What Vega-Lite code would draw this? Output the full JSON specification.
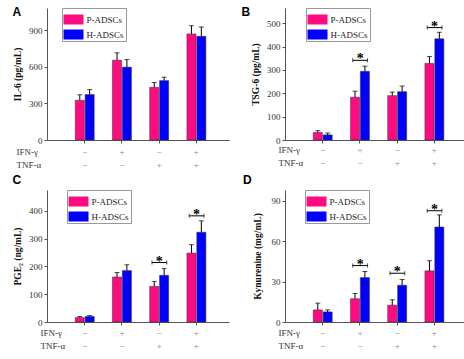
{
  "$schema": "https://vega.github.io/schema/vega-lite/v6.json",
  "padding": {"left": 12, "top": 5, "right": 4, "bottom": 2},
  "datasets": {
    "bars": [
      {"panel": "A", "cond": "−|−", "grp": "P-ADSCs", "mean": 325, "upper": 370},
      {"panel": "A", "cond": "−|−", "grp": "H-ADSCs", "mean": 372, "upper": 412},
      {"panel": "A", "cond": "+|−", "grp": "P-ADSCs", "mean": 653, "upper": 713},
      {"panel": "A", "cond": "+|−", "grp": "H-ADSCs", "mean": 596, "upper": 658},
      {"panel": "A", "cond": "−|+", "grp": "P-ADSCs", "mean": 431, "upper": 470},
      {"panel": "A", "cond": "−|+", "grp": "H-ADSCs", "mean": 486, "upper": 514},
      {"panel": "A", "cond": "+|+", "grp": "P-ADSCs", "mean": 868, "upper": 935},
      {"panel": "A", "cond": "+|+", "grp": "H-ADSCs", "mean": 848, "upper": 925},
      {"panel": "B", "cond": "−|−", "grp": "P-ADSCs", "mean": 32, "upper": 40},
      {"panel": "B", "cond": "−|−", "grp": "H-ADSCs", "mean": 22, "upper": 30},
      {"panel": "B", "cond": "+|−", "grp": "P-ADSCs", "mean": 183, "upper": 209},
      {"panel": "B", "cond": "+|−", "grp": "H-ADSCs", "mean": 294, "upper": 316},
      {"panel": "B", "cond": "−|+", "grp": "P-ADSCs", "mean": 190, "upper": 205},
      {"panel": "B", "cond": "−|+", "grp": "H-ADSCs", "mean": 207, "upper": 231},
      {"panel": "B", "cond": "+|+", "grp": "P-ADSCs", "mean": 328, "upper": 357},
      {"panel": "B", "cond": "+|+", "grp": "H-ADSCs", "mean": 433, "upper": 461},
      {"panel": "C", "cond": "−|−", "grp": "P-ADSCs", "mean": 16, "upper": 20},
      {"panel": "C", "cond": "−|−", "grp": "H-ADSCs", "mean": 20, "upper": 23},
      {"panel": "C", "cond": "+|−", "grp": "P-ADSCs", "mean": 162, "upper": 178},
      {"panel": "C", "cond": "+|−", "grp": "H-ADSCs", "mean": 185, "upper": 206},
      {"panel": "C", "cond": "−|+", "grp": "P-ADSCs", "mean": 128, "upper": 146},
      {"panel": "C", "cond": "−|+", "grp": "H-ADSCs", "mean": 168, "upper": 192},
      {"panel": "C", "cond": "+|+", "grp": "P-ADSCs", "mean": 248, "upper": 278},
      {"panel": "C", "cond": "+|+", "grp": "H-ADSCs", "mean": 323, "upper": 364},
      {"panel": "D", "cond": "−|−", "grp": "P-ADSCs", "mean": 9, "upper": 14},
      {"panel": "D", "cond": "−|−", "grp": "H-ADSCs", "mean": 7.5, "upper": 9},
      {"panel": "D", "cond": "+|−", "grp": "P-ADSCs", "mean": 17.3, "upper": 21.2},
      {"panel": "D", "cond": "+|−", "grp": "H-ADSCs", "mean": 33, "upper": 37.5},
      {"panel": "D", "cond": "−|+", "grp": "P-ADSCs", "mean": 12.5, "upper": 16.5},
      {"panel": "D", "cond": "−|+", "grp": "H-ADSCs", "mean": 27.3, "upper": 31.6},
      {"panel": "D", "cond": "+|+", "grp": "P-ADSCs", "mean": 38, "upper": 45.5},
      {"panel": "D", "cond": "+|+", "grp": "H-ADSCs", "mean": 70.5, "upper": 79.5}
    ],
    "sig": [
      {"panel": "B", "cond": "+|−", "y": 341},
      {"panel": "B", "cond": "+|+", "y": 481},
      {"panel": "C", "cond": "−|+", "y": 214},
      {"panel": "C", "cond": "+|+", "y": 382},
      {"panel": "D", "cond": "+|−", "y": 41.9},
      {"panel": "D", "cond": "−|+", "y": 36.2},
      {"panel": "D", "cond": "+|+", "y": 82.6}
    ]
  },
  "columns": 2,
  "spacing": {"row": 4, "column": 12},
  "resolve": {
    "scale": {"color": "independent", "x": "independent", "y": "independent", "xOffset": "independent"},
    "legend": {"color": "independent"}
  },
  "concat": [
    {
      "width": 182, "height": 132,
      "title": {"text": "A"},
      "layer": [
        {"data": {"name": "bars"}, "transform": [{"filter": "datum.panel === 'A'"}],
         "mark": {"type": "bar", "stroke": "#333", "strokeWidth": 0.5},
         "encoding": {
           "x": {"field": "cond", "type": "nominal", "scale": {"domain": ["−|−", "+|−", "−|+", "+|+"], "paddingInner": 0.49, "paddingOuter": 0.69, "align": 0.55},
                 "axis": {"labelExpr": "[substring(datum.label,0,1), substring(datum.label,2,3)]", "labelPadding": 4, "title": ["IFN-γ", "\u00a0\u00a0\u00a0\u00a0\u00a0\u00a0\u00a0\u00a0\u00a0\u00a0\u00a0TNF-α"], "titleX": -31, "titleY": 7}},
           "xOffset": {"field": "grp", "type": "nominal", "scale": {"domain": ["P-ADSCs", "H-ADSCs"], "paddingInner": 0.08, "paddingOuter": 0}},
           "y": {"field": "mean", "type": "quantitative", "scale": {"domain": [0, 1080], "nice": false}, "axis": {"values": [0, 300, 600, 900], "tickCount": 12, "labelOverlap": false, "title": "IL-6 (pg/mL)", "titlePadding": 6}},
           "color": {"field": "grp", "type": "nominal", "scale": {"domain": ["P-ADSCs", "H-ADSCs"], "range": ["#FF0A80", "#0000FF"]}, "legend": {"orient": "none", "legendX": 15, "legendY": 0, "title": null}}
         }},
        {"data": {"name": "bars"}, "transform": [{"filter": "datum.panel === 'A'"}],
         "mark": {"type": "rule", "color": "#000", "strokeWidth": 1},
         "encoding": {
           "x": {"field": "cond", "type": "nominal", "scale": {"domain": ["−|−", "+|−", "−|+", "+|+"]}},
           "xOffset": {"field": "grp", "type": "nominal", "scale": {"domain": ["P-ADSCs", "H-ADSCs"]}},
           "y": {"field": "mean", "type": "quantitative", "scale": {"domain": [0, 1080], "nice": false}, "axis": {"values": [0, 300, 600, 900], "tickCount": 12, "labelOverlap": false, "title": "IL-6 (pg/mL)", "titlePadding": 6}},
           "y2": {"field": "upper"}
         }},
        {"data": {"name": "bars"}, "transform": [{"filter": "datum.panel === 'A'"}],
         "mark": {"type": "tick", "color": "#000", "size": 5, "thickness": 1, "orient": "horizontal"},
         "encoding": {
           "x": {"field": "cond", "type": "nominal", "scale": {"domain": ["−|−", "+|−", "−|+", "+|+"]}},
           "xOffset": {"field": "grp", "type": "nominal", "scale": {"domain": ["P-ADSCs", "H-ADSCs"]}},
           "y": {"field": "upper", "type": "quantitative", "scale": {"domain": [0, 1080], "nice": false}, "axis": {"values": [0, 300, 600, 900], "tickCount": 12, "labelOverlap": false, "title": "IL-6 (pg/mL)", "titlePadding": 6}}
         }}
      ]
    },
    {
      "width": 182, "height": 132,
      "title": {"text": "B", "dx": -9},
      "layer": [
        {"data": {"name": "bars"}, "transform": [{"filter": "datum.panel === 'B'"}],
         "mark": {"type": "bar", "stroke": "#333", "strokeWidth": 0.5},
         "encoding": {
           "x": {"field": "cond", "type": "nominal", "scale": {"domain": ["−|−", "+|−", "−|+", "+|+"], "paddingInner": 0.49, "paddingOuter": 0.69, "align": 0.55},
                 "axis": {"labelExpr": "[substring(datum.label,0,1), substring(datum.label,2,3)]", "labelPadding": 2, "title": ["IFN-γ", "TNF-α"], "titleY": 5}},
           "xOffset": {"field": "grp", "type": "nominal", "scale": {"domain": ["P-ADSCs", "H-ADSCs"], "paddingInner": 0.08, "paddingOuter": 0}},
           "y": {"field": "mean", "type": "quantitative", "scale": {"domain": [0, 565], "nice": false}, "axis": {"values": [0, 100, 200, 300, 400, 500], "tickCount": 12, "labelOverlap": false, "title": "TSG-6 (pg/mL)", "titlePadding": 6}},
           "color": {"field": "grp", "type": "nominal", "scale": {"domain": ["P-ADSCs", "H-ADSCs"], "range": ["#FF0A80", "#0000FF"]}, "legend": {"orient": "none", "legendX": 21, "legendY": 0, "title": null}}
         }},
        {"data": {"name": "bars"}, "transform": [{"filter": "datum.panel === 'B'"}],
         "mark": {"type": "rule", "color": "#000", "strokeWidth": 1},
         "encoding": {
           "x": {"field": "cond", "type": "nominal", "scale": {"domain": ["−|−", "+|−", "−|+", "+|+"]}},
           "xOffset": {"field": "grp", "type": "nominal", "scale": {"domain": ["P-ADSCs", "H-ADSCs"]}},
           "y": {"field": "mean", "type": "quantitative", "scale": {"domain": [0, 565], "nice": false}, "axis": {"values": [0, 100, 200, 300, 400, 500], "tickCount": 12, "labelOverlap": false, "title": "TSG-6 (pg/mL)", "titlePadding": 6}},
           "y2": {"field": "upper"}
         }},
        {"data": {"name": "bars"}, "transform": [{"filter": "datum.panel === 'B'"}],
         "mark": {"type": "tick", "color": "#000", "size": 5, "thickness": 1, "orient": "horizontal"},
         "encoding": {
           "x": {"field": "cond", "type": "nominal", "scale": {"domain": ["−|−", "+|−", "−|+", "+|+"]}},
           "xOffset": {"field": "grp", "type": "nominal", "scale": {"domain": ["P-ADSCs", "H-ADSCs"]}},
           "y": {"field": "upper", "type": "quantitative", "scale": {"domain": [0, 565], "nice": false}, "axis": {"values": [0, 100, 200, 300, 400, 500], "tickCount": 12, "labelOverlap": false, "title": "TSG-6 (pg/mL)", "titlePadding": 6}}
         }},
        {"data": {"name": "sig"}, "transform": [{"filter": "datum.panel === 'B'"}],
         "mark": {"type": "rule", "color": "#000", "strokeWidth": 1},
         "encoding": {
           "x": {"field": "cond", "type": "nominal", "bandPosition": 0.12, "scale": {"domain": ["−|−", "+|−", "−|+", "+|+"]}},
           "x2": {"field": "cond", "bandPosition": 0.9},
           "y": {"field": "y", "type": "quantitative", "scale": {"domain": [0, 565], "nice": false}, "axis": {"values": [0, 100, 200, 300, 400, 500], "tickCount": 12, "labelOverlap": false, "title": "TSG-6 (pg/mL)", "titlePadding": 6}}
         }},
        {"data": {"name": "sig"}, "transform": [{"filter": "datum.panel === 'B'"}],
         "mark": {"type": "tick", "color": "#000", "size": 4, "thickness": 1, "orient": "vertical"},
         "encoding": {
           "x": {"field": "cond", "type": "nominal", "bandPosition": 0.12, "scale": {"domain": ["−|−", "+|−", "−|+", "+|+"]}},
           "y": {"field": "y", "type": "quantitative", "scale": {"domain": [0, 565], "nice": false}, "axis": {"values": [0, 100, 200, 300, 400, 500], "tickCount": 12, "labelOverlap": false, "title": "TSG-6 (pg/mL)", "titlePadding": 6}}
         }},
        {"data": {"name": "sig"}, "transform": [{"filter": "datum.panel === 'B'"}],
         "mark": {"type": "tick", "color": "#000", "size": 4, "thickness": 1, "orient": "vertical"},
         "encoding": {
           "x": {"field": "cond", "type": "nominal", "bandPosition": 0.9, "scale": {"domain": ["−|−", "+|−", "−|+", "+|+"]}},
           "y": {"field": "y", "type": "quantitative", "scale": {"domain": [0, 565], "nice": false}, "axis": {"values": [0, 100, 200, 300, 400, 500], "tickCount": 12, "labelOverlap": false, "title": "TSG-6 (pg/mL)", "titlePadding": 6}}
         }},
        {"data": {"name": "sig"}, "transform": [{"filter": "datum.panel === 'B'"}],
         "mark": {"type": "text", "text": "*", "font": "Liberation Serif", "fontSize": 14, "fontWeight": "bold", "baseline": "alphabetic", "dy": 3, "color": "#000"},
         "encoding": {
           "x": {"field": "cond", "type": "nominal", "bandPosition": 0.51, "scale": {"domain": ["−|−", "+|−", "−|+", "+|+"]}},
           "y": {"field": "y", "type": "quantitative", "scale": {"domain": [0, 565], "nice": false}, "axis": {"values": [0, 100, 200, 300, 400, 500], "tickCount": 12, "labelOverlap": false, "title": "TSG-6 (pg/mL)", "titlePadding": 6}}
         }}
      ]
    },
    {
      "width": 182, "height": 132,
      "title": {"text": "C", "offset": 3},
      "layer": [
        {"data": {"name": "bars"}, "transform": [{"filter": "datum.panel === 'C'"}],
         "mark": {"type": "bar", "stroke": "#333", "strokeWidth": 0.5},
         "encoding": {
           "x": {"field": "cond", "type": "nominal", "scale": {"domain": ["−|−", "+|−", "−|+", "+|+"], "paddingInner": 0.49, "paddingOuter": 0.69, "align": 0.55},
                 "axis": {"labelExpr": "[substring(datum.label,0,1), substring(datum.label,2,3)]", "labelPadding": 3, "title": ["IFN-γ", "TNF-α"], "titleY": 6}},
           "xOffset": {"field": "grp", "type": "nominal", "scale": {"domain": ["P-ADSCs", "H-ADSCs"], "paddingInner": 0.08, "paddingOuter": 0}},
           "y": {"field": "mean", "type": "quantitative", "scale": {"domain": [0, 475], "nice": false}, "axis": {"values": [0, 100, 200, 300, 400], "tickCount": 12, "labelOverlap": false, "title": "PGE₂ (ng/mL)", "titlePadding": 6}},
           "color": {"field": "grp", "type": "nominal", "scale": {"domain": ["P-ADSCs", "H-ADSCs"], "range": ["#FF0A80", "#0000FF"]}, "legend": {"orient": "none", "legendX": 20, "legendY": 0, "title": null}}
         }},
        {"data": {"name": "bars"}, "transform": [{"filter": "datum.panel === 'C'"}],
         "mark": {"type": "rule", "color": "#000", "strokeWidth": 1},
         "encoding": {
           "x": {"field": "cond", "type": "nominal", "scale": {"domain": ["−|−", "+|−", "−|+", "+|+"]}},
           "xOffset": {"field": "grp", "type": "nominal", "scale": {"domain": ["P-ADSCs", "H-ADSCs"]}},
           "y": {"field": "mean", "type": "quantitative", "scale": {"domain": [0, 475], "nice": false}, "axis": {"values": [0, 100, 200, 300, 400], "tickCount": 12, "labelOverlap": false, "title": "PGE₂ (ng/mL)", "titlePadding": 6}},
           "y2": {"field": "upper"}
         }},
        {"data": {"name": "bars"}, "transform": [{"filter": "datum.panel === 'C'"}],
         "mark": {"type": "tick", "color": "#000", "size": 5, "thickness": 1, "orient": "horizontal"},
         "encoding": {
           "x": {"field": "cond", "type": "nominal", "scale": {"domain": ["−|−", "+|−", "−|+", "+|+"]}},
           "xOffset": {"field": "grp", "type": "nominal", "scale": {"domain": ["P-ADSCs", "H-ADSCs"]}},
           "y": {"field": "upper", "type": "quantitative", "scale": {"domain": [0, 475], "nice": false}, "axis": {"values": [0, 100, 200, 300, 400], "tickCount": 12, "labelOverlap": false, "title": "PGE₂ (ng/mL)", "titlePadding": 6}}
         }},
        {"data": {"name": "sig"}, "transform": [{"filter": "datum.panel === 'C'"}],
         "mark": {"type": "rule", "color": "#000", "strokeWidth": 1},
         "encoding": {
           "x": {"field": "cond", "type": "nominal", "bandPosition": 0.12, "scale": {"domain": ["−|−", "+|−", "−|+", "+|+"]}},
           "x2": {"field": "cond", "bandPosition": 0.9},
           "y": {"field": "y", "type": "quantitative", "scale": {"domain": [0, 475], "nice": false}, "axis": {"values": [0, 100, 200, 300, 400], "tickCount": 12, "labelOverlap": false, "title": "PGE₂ (ng/mL)", "titlePadding": 6}}
         }},
        {"data": {"name": "sig"}, "transform": [{"filter": "datum.panel === 'C'"}],
         "mark": {"type": "tick", "color": "#000", "size": 4, "thickness": 1, "orient": "vertical"},
         "encoding": {
           "x": {"field": "cond", "type": "nominal", "bandPosition": 0.12, "scale": {"domain": ["−|−", "+|−", "−|+", "+|+"]}},
           "y": {"field": "y", "type": "quantitative", "scale": {"domain": [0, 475], "nice": false}, "axis": {"values": [0, 100, 200, 300, 400], "tickCount": 12, "labelOverlap": false, "title": "PGE₂ (ng/mL)", "titlePadding": 6}}
         }},
        {"data": {"name": "sig"}, "transform": [{"filter": "datum.panel === 'C'"}],
         "mark": {"type": "tick", "color": "#000", "size": 4, "thickness": 1, "orient": "vertical"},
         "encoding": {
           "x": {"field": "cond", "type": "nominal", "bandPosition": 0.9, "scale": {"domain": ["−|−", "+|−", "−|+", "+|+"]}},
           "y": {"field": "y", "type": "quantitative", "scale": {"domain": [0, 475], "nice": false}, "axis": {"values": [0, 100, 200, 300, 400], "tickCount": 12, "labelOverlap": false, "title": "PGE₂ (ng/mL)", "titlePadding": 6}}
         }},
        {"data": {"name": "sig"}, "transform": [{"filter": "datum.panel === 'C'"}],
         "mark": {"type": "text", "text": "*", "font": "Liberation Serif", "fontSize": 14, "fontWeight": "bold", "baseline": "alphabetic", "dy": 3, "color": "#000"},
         "encoding": {
           "x": {"field": "cond", "type": "nominal", "bandPosition": 0.51, "scale": {"domain": ["−|−", "+|−", "−|+", "+|+"]}},
           "y": {"field": "y", "type": "quantitative", "scale": {"domain": [0, 475], "nice": false}, "axis": {"values": [0, 100, 200, 300, 400], "tickCount": 12, "labelOverlap": false, "title": "PGE₂ (ng/mL)", "titlePadding": 6}}
         }}
      ]
    },
    {
      "width": 182, "height": 132,
      "title": {"text": "D", "dx": -9, "offset": 3},
      "layer": [
        {"data": {"name": "bars"}, "transform": [{"filter": "datum.panel === 'D'"}],
         "mark": {"type": "bar", "stroke": "#333", "strokeWidth": 0.5},
         "encoding": {
           "x": {"field": "cond", "type": "nominal", "scale": {"domain": ["−|−", "+|−", "−|+", "+|+"], "paddingInner": 0.49, "paddingOuter": 0.69, "align": 0.55},
                 "axis": {"labelExpr": "[substring(datum.label,0,1), substring(datum.label,2,3)]", "labelPadding": 3, "title": ["IFN-γ", "TNF-α"], "titleY": 6}},
           "xOffset": {"field": "grp", "type": "nominal", "scale": {"domain": ["P-ADSCs", "H-ADSCs"], "paddingInner": 0.08, "paddingOuter": 0}},
           "y": {"field": "mean", "type": "quantitative", "scale": {"domain": [0, 98], "nice": false}, "axis": {"values": [0, 30, 60, 90], "tickCount": 12, "labelOverlap": false, "title": "Kynurenine (mg/mL)", "titlePadding": 9}},
           "color": {"field": "grp", "type": "nominal", "scale": {"domain": ["P-ADSCs", "H-ADSCs"], "range": ["#FF0A80", "#0000FF"]}, "legend": {"orient": "none", "legendX": 20, "legendY": 0, "title": null}}
         }},
        {"data": {"name": "bars"}, "transform": [{"filter": "datum.panel === 'D'"}],
         "mark": {"type": "rule", "color": "#000", "strokeWidth": 1},
         "encoding": {
           "x": {"field": "cond", "type": "nominal", "scale": {"domain": ["−|−", "+|−", "−|+", "+|+"]}},
           "xOffset": {"field": "grp", "type": "nominal", "scale": {"domain": ["P-ADSCs", "H-ADSCs"]}},
           "y": {"field": "mean", "type": "quantitative", "scale": {"domain": [0, 98], "nice": false}, "axis": {"values": [0, 30, 60, 90], "tickCount": 12, "labelOverlap": false, "title": "Kynurenine (mg/mL)", "titlePadding": 9}},
           "y2": {"field": "upper"}
         }},
        {"data": {"name": "bars"}, "transform": [{"filter": "datum.panel === 'D'"}],
         "mark": {"type": "tick", "color": "#000", "size": 5, "thickness": 1, "orient": "horizontal"},
         "encoding": {
           "x": {"field": "cond", "type": "nominal", "scale": {"domain": ["−|−", "+|−", "−|+", "+|+"]}},
           "xOffset": {"field": "grp", "type": "nominal", "scale": {"domain": ["P-ADSCs", "H-ADSCs"]}},
           "y": {"field": "upper", "type": "quantitative", "scale": {"domain": [0, 98], "nice": false}, "axis": {"values": [0, 30, 60, 90], "tickCount": 12, "labelOverlap": false, "title": "Kynurenine (mg/mL)", "titlePadding": 9}}
         }},
        {"data": {"name": "sig"}, "transform": [{"filter": "datum.panel === 'D'"}],
         "mark": {"type": "rule", "color": "#000", "strokeWidth": 1},
         "encoding": {
           "x": {"field": "cond", "type": "nominal", "bandPosition": 0.12, "scale": {"domain": ["−|−", "+|−", "−|+", "+|+"]}},
           "x2": {"field": "cond", "bandPosition": 0.9},
           "y": {"field": "y", "type": "quantitative", "scale": {"domain": [0, 98], "nice": false}, "axis": {"values": [0, 30, 60, 90], "tickCount": 12, "labelOverlap": false, "title": "Kynurenine (mg/mL)", "titlePadding": 9}}
         }},
        {"data": {"name": "sig"}, "transform": [{"filter": "datum.panel === 'D'"}],
         "mark": {"type": "tick", "color": "#000", "size": 4, "thickness": 1, "orient": "vertical"},
         "encoding": {
           "x": {"field": "cond", "type": "nominal", "bandPosition": 0.12, "scale": {"domain": ["−|−", "+|−", "−|+", "+|+"]}},
           "y": {"field": "y", "type": "quantitative", "scale": {"domain": [0, 98], "nice": false}, "axis": {"values": [0, 30, 60, 90], "tickCount": 12, "labelOverlap": false, "title": "Kynurenine (mg/mL)", "titlePadding": 9}}
         }},
        {"data": {"name": "sig"}, "transform": [{"filter": "datum.panel === 'D'"}],
         "mark": {"type": "tick", "color": "#000", "size": 4, "thickness": 1, "orient": "vertical"},
         "encoding": {
           "x": {"field": "cond", "type": "nominal", "bandPosition": 0.9, "scale": {"domain": ["−|−", "+|−", "−|+", "+|+"]}},
           "y": {"field": "y", "type": "quantitative", "scale": {"domain": [0, 98], "nice": false}, "axis": {"values": [0, 30, 60, 90], "tickCount": 12, "labelOverlap": false, "title": "Kynurenine (mg/mL)", "titlePadding": 9}}
         }},
        {"data": {"name": "sig"}, "transform": [{"filter": "datum.panel === 'D'"}],
         "mark": {"type": "text", "text": "*", "font": "Liberation Serif", "fontSize": 14, "fontWeight": "bold", "baseline": "alphabetic", "dy": 3, "color": "#000"},
         "encoding": {
           "x": {"field": "cond", "type": "nominal", "bandPosition": 0.51, "scale": {"domain": ["−|−", "+|−", "−|+", "+|+"]}},
           "y": {"field": "y", "type": "quantitative", "scale": {"domain": [0, 98], "nice": false}, "axis": {"values": [0, 30, 60, 90], "tickCount": 12, "labelOverlap": false, "title": "Kynurenine (mg/mL)", "titlePadding": 9}}
         }}
      ]
    }
  ],
  "config": {
    "view": {"stroke": null},
    "font": "Liberation Serif",
    "title": {"anchor": "start", "frame": "bounds", "font": "Liberation Sans", "fontSize": 12, "fontWeight": "bold", "color": "#000", "offset": -11, "baseline": "top"},
    "axis": {"grid": false, "labelOverlap": false, "domainColor": "#555", "tickColor": "#555", "tickSize": 3, "labelFont": "Liberation Serif", "labelFontSize": 9, "labelColor": "#333", "labelPadding": 2, "titleFont": "Liberation Serif", "titleFontSize": 9.5, "titleFontWeight": "bold", "titleColor": "#111"},
    "axisY": {"labelOverlap": false},
    "axisX": {"labelAngle": 0, "labelColor": "#888", "labelLineHeight": 13, "titleX": -7, "titleAlign": "left", "titleBaseline": "top", "titleAngle": 0, "titleLineHeight": 13, "titleFontWeight": "normal", "titleFontSize": 9, "titleColor": "#333"},
    "legend": {"labelFont": "Liberation Serif", "labelFontSize": 9, "labelColor": "#222", "symbolType": "M-1,-0.5H1V0.5H-1Z", "symbolSize": 400, "symbolStrokeWidth": 0, "rowPadding": 0, "padding": 1.5, "strokeColor": "#999", "fillColor": "#fff", "labelOffset": 3}
  }
}
